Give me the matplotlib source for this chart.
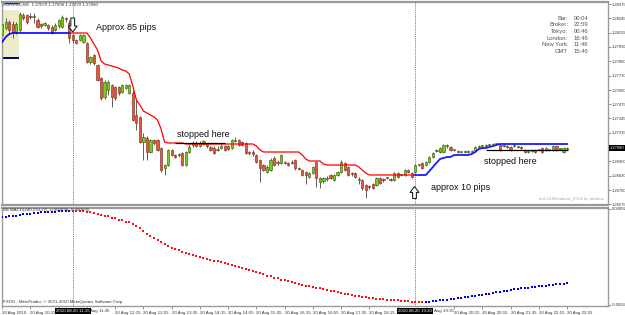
import matplotlib
matplotlib.use("Agg")
import matplotlib.pyplot as plt
import numpy as np
from matplotlib.patches import Polygon, Rectangle
from matplotlib.transforms import blended_transform_factory

plt.rcParams["font.family"] = ["Liberation Sans", "DejaVu Sans"]

W, H = 625, 315

# EURUSD M5, 20 Aug 2010 09:35 .. 22:55 (161 bars)
opens = [1.28096, 1.28159, 1.28213, 1.28195, 1.28123, 1.28141, 1.28276, 1.28276, 1.28267, 1.28258,
         1.28231, 1.28195, 1.28186, 1.28186, 1.28168, 1.28141, 1.28177, 1.28168, 1.28249, 1.28204,
         1.28096, 1.28051, 1.28051, 1.28033, 1.28024, 1.27853, 1.27916, 1.27826, 1.27709, 1.27538,
         1.27601, 1.27646, 1.27628, 1.27628, 1.27583, 1.27619, 1.27574, 1.27574, 1.27376, 1.27358,
         1.27133, 1.27169, 1.27043, 1.27151, 1.27151, 1.27079, 1.26899, 1.26926, 1.27061, 1.27016,
         1.27016, 1.27034, 1.26926, 1.27043, 1.27106, 1.27124, 1.27097, 1.27115, 1.27115, 1.27088,
         1.27079, 1.27061, 1.27079, 1.27097, 1.27097, 1.27079, 1.27142, 1.27151, 1.27133, 1.27124,
         1.27043, 1.27043, 1.27016, 1.26971, 1.26926, 1.26863, 1.26881, 1.26989, 1.26953, 1.26944,
         1.26953, 1.26944, 1.26953, 1.26971, 1.26899, 1.26881, 1.26863, 1.26818, 1.26854, 1.26953,
         1.26773, 1.26782, 1.26800, 1.26836, 1.26791, 1.26836, 1.26863, 1.26944, 1.26908, 1.26854,
         1.26854, 1.26791, 1.26791, 1.26746, 1.26737, 1.26755, 1.26746, 1.26809, 1.26800, 1.26809,
         1.26800, 1.26791, 1.26854, 1.26836, 1.26836, 1.26881, 1.26854, 1.26863, 1.26926, 1.26944,
         1.26926, 1.26953, 1.26998, 1.27052, 1.27043, 1.27043, 1.27097, 1.27088, 1.27061, 1.27052,
         1.27043, 1.27043, 1.27052, 1.27043, 1.27061, 1.27088, 1.27097, 1.27097, 1.27106, 1.27106,
         1.27115, 1.27106, 1.27097, 1.27097, 1.27088, 1.27097, 1.27088, 1.27088, 1.27061, 1.27043,
         1.27052, 1.27061, 1.27061, 1.27079, 1.27061, 1.27061, 1.27061, 1.27097, 1.27070, 1.27043,
         1.27070]
closes = [1.28195, 1.28213, 1.28141, 1.28123, 1.28195, 1.28285, 1.28249, 1.28213, 1.28258, 1.28267,
          1.28168, 1.28177, 1.28204, 1.28159, 1.28114, 1.28186, 1.28231, 1.28258, 1.28240, 1.28069,
          1.28051, 1.28024, 1.28096, 1.28096, 1.27853, 1.27898, 1.27844, 1.27691, 1.27529, 1.27673,
          1.27673, 1.27538, 1.27529, 1.27574, 1.27646, 1.27646, 1.27646, 1.27331, 1.27304, 1.27133,
          1.27178, 1.27043, 1.27151, 1.27124, 1.27061, 1.26881, 1.26926, 1.27061, 1.27016, 1.26998,
          1.27016, 1.26926, 1.27043, 1.27088, 1.27124, 1.27097, 1.27124, 1.27142, 1.27097, 1.27061,
          1.27034, 1.27070, 1.27097, 1.27061, 1.27070, 1.27151, 1.27151, 1.27106, 1.27106, 1.27034,
          1.27034, 1.27025, 1.26953, 1.26899, 1.26881, 1.26908, 1.26971, 1.26926, 1.26944, 1.27016,
          1.26944, 1.26926, 1.26944, 1.26899, 1.26890, 1.26836, 1.26836, 1.26854, 1.26908, 1.26809,
          1.26809, 1.26809, 1.26809, 1.26809, 1.26836, 1.26863, 1.26953, 1.26881, 1.26836, 1.26845,
          1.26818, 1.26800, 1.26719, 1.26701, 1.26728, 1.26719, 1.26809, 1.26764, 1.26791, 1.26809,
          1.26791, 1.26854, 1.26818, 1.26836, 1.26881, 1.26863, 1.26818, 1.26926, 1.26926, 1.26899,
          1.26953, 1.26998, 1.27034, 1.27061, 1.27079, 1.27106, 1.27106, 1.27061, 1.27061, 1.27043,
          1.27043, 1.27052, 1.27043, 1.27052, 1.27088, 1.27097, 1.27097, 1.27106, 1.27106, 1.27115,
          1.27115, 1.27061, 1.27106, 1.27088, 1.27061, 1.27106, 1.27088, 1.27079, 1.27043, 1.27043,
          1.27061, 1.27043, 1.27061, 1.27043, 1.27079, 1.27061, 1.27097, 1.27061, 1.27070, 1.27079,
          1.27080]
highs = [1.28231, 1.28249, 1.28231, 1.28222, 1.28213, 1.28303, 1.28294, 1.28285, 1.28294, 1.28294,
         1.28249, 1.28204, 1.28213, 1.28195, 1.28186, 1.28204, 1.28240, 1.28276, 1.28258, 1.28231,
         1.28105, 1.28060, 1.28105, 1.28105, 1.28033, 1.27907, 1.27925, 1.27835, 1.27718, 1.27691,
         1.27691, 1.27655, 1.27637, 1.27637, 1.27655, 1.27655, 1.27655, 1.27601, 1.27511, 1.27367,
         1.27214, 1.27187, 1.27160, 1.27160, 1.27160, 1.27088, 1.26935, 1.27070, 1.27070, 1.27025,
         1.27034, 1.27043, 1.27052, 1.27124, 1.27142, 1.27142, 1.27142, 1.27151, 1.27124, 1.27097,
         1.27097, 1.27097, 1.27115, 1.27106, 1.27106, 1.27160, 1.27178, 1.27160, 1.27142, 1.27133,
         1.27052, 1.27061, 1.27025, 1.26980, 1.26935, 1.26926, 1.26989, 1.27007, 1.26971, 1.27025,
         1.26962, 1.26953, 1.26971, 1.26980, 1.26908, 1.26890, 1.26872, 1.26863, 1.26917, 1.26962,
         1.26818, 1.26818, 1.26827, 1.26845, 1.26845, 1.26872, 1.26971, 1.26953, 1.26917, 1.26863,
         1.26863, 1.26818, 1.26800, 1.26755, 1.26746, 1.26764, 1.26818, 1.26818, 1.26809, 1.26818,
         1.26809, 1.26863, 1.26863, 1.26845, 1.26890, 1.26890, 1.26863, 1.26935, 1.26935, 1.26953,
         1.26962, 1.27007, 1.27043, 1.27070, 1.27088, 1.27115, 1.27115, 1.27097, 1.27070, 1.27061,
         1.27052, 1.27061, 1.27061, 1.27061, 1.27097, 1.27106, 1.27106, 1.27115, 1.27115, 1.27124,
         1.27124, 1.27115, 1.27115, 1.27106, 1.27097, 1.27115, 1.27097, 1.27097, 1.27070, 1.27052,
         1.27070, 1.27070, 1.27070, 1.27088, 1.27088, 1.27070, 1.27106, 1.27106, 1.27079, 1.27088,
         1.27090]
lows = [1.28078, 1.28141, 1.28114, 1.28069, 1.28105, 1.28123, 1.28231, 1.28195, 1.28240, 1.28204,
        1.28159, 1.28159, 1.28177, 1.28141, 1.28105, 1.28132, 1.28159, 1.28159, 1.28213, 1.28024,
        1.28024, 1.28015, 1.28042, 1.28024, 1.27844, 1.27835, 1.27826, 1.27682, 1.27511, 1.27520,
        1.27556, 1.27448, 1.27511, 1.27556, 1.27574, 1.27610, 1.27565, 1.27322, 1.27241, 1.27124,
        1.26971, 1.26971, 1.27034, 1.27106, 1.27052, 1.26863, 1.26836, 1.26917, 1.27007, 1.26989,
        1.26998, 1.26917, 1.26917, 1.27034, 1.27088, 1.27088, 1.27088, 1.27106, 1.27079, 1.27052,
        1.27025, 1.27052, 1.27070, 1.27052, 1.27061, 1.27070, 1.27133, 1.27097, 1.27097, 1.27025,
        1.27016, 1.27007, 1.26944, 1.26773, 1.26872, 1.26854, 1.26872, 1.26917, 1.26926, 1.26935,
        1.26935, 1.26917, 1.26935, 1.26881, 1.26881, 1.26827, 1.26755, 1.26809, 1.26845, 1.26728,
        1.26719, 1.26764, 1.26782, 1.26800, 1.26782, 1.26827, 1.26854, 1.26872, 1.26827, 1.26827,
        1.26809, 1.26755, 1.26701, 1.26629, 1.26710, 1.26710, 1.26737, 1.26755, 1.26773, 1.26800,
        1.26782, 1.26782, 1.26809, 1.26827, 1.26827, 1.26854, 1.26809, 1.26854, 1.26917, 1.26890,
        1.26917, 1.26944, 1.26989, 1.27043, 1.27034, 1.27034, 1.27079, 1.27052, 1.27052, 1.27034,
        1.27034, 1.27034, 1.27034, 1.27034, 1.27052, 1.27079, 1.27088, 1.27088, 1.27097, 1.27097,
        1.27106, 1.27052, 1.27088, 1.27079, 1.27052, 1.27088, 1.27079, 1.27070, 1.27034, 1.27034,
        1.27043, 1.27034, 1.27052, 1.27034, 1.27052, 1.27052, 1.27052, 1.27052, 1.27061, 1.27034,
        1.27070]

# breakout trailing stops
long_stop_1 = [1.28033, 1.28078, 1.28105, 1.28114, 1.28114, 1.28114, 1.28114, 1.28114, 1.28114, 1.28114,
               1.28114, 1.28114, 1.28114, 1.28114, 1.28114, 1.28114, 1.28114, 1.28114, 1.28114, 1.28114]  # bars 0-19
short_stop = [1.28114, 1.28114, 1.28114, 1.28114, 1.28114, 1.28114, 1.28069, 1.28015, 1.27961, 1.27862,
              1.27835, 1.27826, 1.27817, 1.27808, 1.27799, 1.27781, 1.27772, 1.27745, 1.27637, 1.27511,
              1.27466, 1.27412, 1.27394, 1.27376, 1.27358, 1.27331, 1.27250, 1.27133, 1.27124, 1.27124,
              1.27124, 1.27124, 1.27124, 1.27115, 1.27115, 1.27115, 1.27115, 1.27115, 1.27115, 1.27115,
              1.27115, 1.27115, 1.27115, 1.27115, 1.27115, 1.27115, 1.27115, 1.27115, 1.27115, 1.27115,
              1.27115, 1.27115, 1.27115, 1.27097, 1.27061, 1.27043, 1.27043, 1.27043, 1.27043, 1.27043,
              1.27043, 1.27043, 1.27043, 1.27043, 1.27043, 1.27043, 1.27016, 1.26980, 1.26962, 1.26962,
              1.26962, 1.26962, 1.26935, 1.26926, 1.26926, 1.26926, 1.26926, 1.26926, 1.26926, 1.26926,
              1.26926, 1.26926, 1.26908, 1.26881, 1.26854, 1.26836, 1.26836, 1.26836, 1.26836, 1.26836,
              1.26836, 1.26836, 1.26836, 1.26836, 1.26836, 1.26836, 1.26836, 1.26836, 1.26836]  # bars 19-117
long_stop_2 = [1.26836, 1.26836, 1.26836, 1.26836, 1.26872, 1.26908, 1.26944, 1.26980, 1.26989, 1.26998,
               1.26998, 1.27016, 1.27016, 1.27016, 1.27016, 1.27016, 1.27025, 1.27043, 1.27070, 1.27079,
               1.27079, 1.27088, 1.27097, 1.27106, 1.27115, 1.27115, 1.27115, 1.27115, 1.27115, 1.27115,
               1.27115, 1.27115, 1.27115, 1.27115, 1.27115, 1.27115, 1.27115, 1.27115, 1.27115, 1.27115,
               1.27115, 1.27115, 1.27115, 1.27115]  # bars 117-160

# BB MACD values
macd = [0.000640, 0.000640, 0.000658, 0.000675, 0.000692, 0.000710, 0.000728, 0.000745, 0.000762, 0.000780,
        0.000787, 0.000798, 0.000808, 0.000815, 0.000822, 0.000829, 0.000836, 0.000843, 0.000846, 0.000850,
        0.000848, 0.000846, 0.000844, 0.000840, 0.000832, 0.000815, 0.000780, 0.000745, 0.000710, 0.000682,
        0.000658, 0.000622, 0.000588, 0.000552, 0.000518, 0.000482, 0.000448, 0.000395, 0.000325, 0.000255,
        0.000150, 0.000062, -0.000025, -0.000112, -0.000182, -0.000252, -0.000322, -0.000375, -0.000428, -0.000480,
        -0.000532, -0.000585, -0.000620, -0.000655, -0.000690, -0.000725, -0.000760, -0.000795, -0.000830, -0.000858,
        -0.000886, -0.000914, -0.000942, -0.000970, -0.001005, -0.001040, -0.001075, -0.001110, -0.001152, -0.001190,
        -0.001226, -0.001260, -0.001296, -0.001334, -0.001372, -0.001408, -0.001442, -0.001478, -0.001512, -0.001548,
        -0.001576, -0.001600, -0.001635, -0.001670, -0.001705, -0.001733, -0.001761, -0.001789, -0.001810, -0.001834,
        -0.001862, -0.001890, -0.001915, -0.001940, -0.001960, -0.001985, -0.002013, -0.002038, -0.002062, -0.002090,
        -0.002111, -0.002132, -0.002153, -0.002174, -0.002188, -0.002202, -0.002216, -0.002230, -0.002240, -0.002251,
        -0.002262, -0.002272, -0.002282, -0.002293, -0.002304, -0.002314, -0.002324, -0.002335, -0.002338, -0.002342,
        -0.002338, -0.002328, -0.002314, -0.002300, -0.002282, -0.002265, -0.002251, -0.002237, -0.002220, -0.002202,
        -0.002184, -0.002167, -0.002150, -0.002132, -0.002118, -0.002100, -0.002083, -0.002062, -0.002041, -0.002020,
        -0.001999, -0.001978, -0.001957, -0.001936, -0.001915, -0.001894, -0.001876, -0.001859, -0.001845, -0.001831,
        -0.001817, -0.001803, -0.001789, -0.001775, -0.001761, -0.001747, -0.001733, -0.001719, -0.001705, -0.001691,
        -0.001677]

price_ticks = [1.28375, 1.28245, 1.28115, 1.27990, 1.27860, 1.27730, 1.27600, 1.27475,
               1.27345, 1.27215, 1.26960, 1.26830, 1.26700, 1.26575]
macd_ticks = [0.00092, -0.00244]
time_ticks = list(range(0, 161, 8))
# labels hidden behind the crosshair boxes are left empty; partly hidden ones are drawn shortened
time_labels = ["20 Aug 2010", "20 Aug 10:15", "", "", "20 Aug 12:15",
               "20 Aug 12:55", "20 Aug 13:35", "20 Aug 14:15", "20 Aug 14:55", "20 Aug 15:35",
               "20 Aug 16:15", "20 Aug 16:55", "20 Aug 17:35", "20 Aug 18:15", "",
               "", "20 Aug 20:15", "20 Aug 20:55", "20 Aug 21:35", "20 Aug 22:15",
               "20 Aug 22:55"]
partial_labels = [(25.0, "Aug 11:35"), (122.4, "Aug 19:35")]
info_names = ["Bar:", "Broker:", "Tokyo:", "London:", "New York:", "GMT"]
info_times = ["00:04", "22:59", "00:46", "16:46", "11:46", "15:46"]
box_high, box_low, box_top = 1.28321, 1.27889, 1.28380
stop_hit_1, stop_hit_2 = 1.27124, 1.27061
cursor_bars = [20, 117]
cursor_labels = ["2010.08.20 11:15", "2010.08.20 19:20"]
last_price = 1.27080

assert len(opens) == len(closes) == len(highs) == len(lows) == len(macd) == 161
assert len(short_stop) == 99 and len(long_stop_2) == 44

o = np.array(opens); c = np.array(closes); h = np.array(highs); l = np.array(lows)
idx = np.arange(len(c))
GRID = "#9a9a9a"
SMALL = 3.2

fig = plt.figure(figsize=(W / 100, H / 100), dpi=100)
fig.patch.set_facecolor("white")
ax = fig.add_axes([2 / W, (H - 205) / H, 606 / W, 203 / H])
ax2 = fig.add_axes([2 / W, (H - 306) / H, 606 / W, 98 / H])

for a in (ax, ax2):
    a.set_xlim(-0.06, 171.6)
    for s in a.spines.values():
        s.set_color(GRID)
        s.set_linewidth(1.0)
    a.yaxis.tick_right()
    a.tick_params(axis="y", length=2, width=0.5, color="#666", labelsize=3.0,
                  labelcolor="#333", pad=0.8)
ax.spines["top"].set_linewidth(1.6)
ax.spines["bottom"].set_linewidth(1.6)
ax2.spines["top"].set_linewidth(1.6)

# main window
ax.set_ylim(1.26566, 1.28393)
ax.set_xticks([])
ax.set_yticks(price_ticks)
ax.set_yticklabels([f"{v:.5f}" for v in price_ticks])

ax.add_patch(Rectangle((-0.6, box_low), 5.3, box_high - box_low, facecolor="#eeebcb",
                       edgecolor="none", zorder=0))
ax.hlines(box_low, -0.6, 4.7, color="#000070", lw=1.4, zorder=1)
ax.hlines(box_top, 0.4, 4.7, color="#0000ff", lw=1.0, zorder=1)

up = c >= o
body = np.maximum(np.abs(c - o), 0.00005)
bottom = np.minimum(o, c)
ax.vlines(idx, l, h, color="#444444", lw=0.6, zorder=2)
ax.bar(idx[up], body[up], bottom=bottom[up], width=0.62, color="#7acc14",
       edgecolor="#2d5200", linewidth=0.4, zorder=3)
ax.bar(idx[~up], body[~up], bottom=bottom[~up], width=0.62, color="#e4573a",
       edgecolor="#7a2212", linewidth=0.4, zorder=3)

ax.plot(np.arange(0, 20), long_stop_1, color="#0000ff", lw=1.2, zorder=4)
ax.plot(np.arange(19, 118), short_stop, color="#ff0000", lw=0.9, zorder=4)
ax.plot(np.arange(117, 161), long_stop_2, color="#1a1aff", lw=1.3, zorder=4)

ax.hlines(stop_hit_1, 49, 63, color="black", lw=0.9, zorder=5)
ax.hlines(stop_hit_2, 137, 160.3, color="black", lw=0.9, zorder=5)

for a in (ax, ax2):
    for b in cursor_bars:
        a.axvline(b, color="#555555", lw=0.6, ls=(0, (1, 1.2)), zorder=1)

ax.text(26.5, 1.28168, "Approx 85 pips", fontsize=6.5, va="center", ha="left", color="#111")
ax.text(49.4, 1.27205, "stopped here", fontsize=6.5, va="center", ha="left", color="#111")
ax.text(136.4, 1.26953, "stopped here", fontsize=6.5, va="center", ha="left", color="#111")
ax.text(121.4, 1.26719, "approx 10 pips", fontsize=6.5, va="center", ha="left", color="#111")

blend = blended_transform_factory(ax.transAxes, ax.transData)
ax.text(1.003, last_price, f"{last_price:.5f}", transform=blend, fontsize=3.0, color="white",
        va="center", ha="left", bbox=dict(facecolor="black", edgecolor="none", pad=0.5), clip_on=False)


def fig_arrow(pts):
    p = Polygon([(x / W, 1 - y / H) for x, y in pts], closed=True, transform=fig.transFigure,
                facecolor="white", edgecolor="#222", lw=0.8, zorder=10)
    fig.add_artist(p)


fig_arrow([(70.8, 18), (74.6, 18), (74.6, 26), (77.2, 26), (72.7, 32), (68.2, 26), (70.8, 26)])
fig_arrow([(414.5, 186.5), (419, 192.5), (416.4, 192.5), (416.4, 198.5), (412.6, 198.5),
           (412.6, 192.5), (410, 192.5)])

fig.text(3 / W, 1 - 5 / H, "EURUSD,M5  1.27070 1.27090 1.27070 1.27080", fontsize=SMALL,
         color="#333", va="center", ha="left")
for k, (n, t) in enumerate(zip(info_names, info_times)):
    yy = 1 - (18 + 6.7 * k) / H
    fig.text(568 / W, yy, n, fontsize=4.2, color="#555", ha="right", va="center")
    fig.text(574 / W, yy, t, fontsize=4.2, color="#555", ha="left", va="center")
fig.text(604 / W, 1 - 199 / H, "ant-GUBreakout_V.0.4 by andrew", fontsize=SMALL,
         color="#a8a8a8", ha="right", va="center")

# indicator window
ax2.set_ylim(-0.002475, 0.000955)
mc = np.array(macd)
rising = np.r_[True, np.diff(mc) >= 0]
ax2.scatter(idx[rising], mc[rising], s=1.7, marker="s", color="#0000dd", linewidths=0, zorder=3)
ax2.scatter(idx[~rising], mc[~rising], s=1.7, marker="s", color="#ff1010", linewidths=0, zorder=3)
ax2.set_yticks(macd_ticks)
ax2.set_yticklabels([f"{v:.5f}" for v in macd_ticks])
ax2.set_xticks(time_ticks)
ax2.set_xticklabels(time_labels, fontsize=SMALL, color="#333", ha="left")
ax2.tick_params(axis="x", length=2, width=0.5, color="#666", pad=1.5)

bl2 = blended_transform_factory(ax2.transData, ax2.transAxes)
for b, lab in zip(cursor_bars, cursor_labels):
    ax2.text(b, -0.052, lab, transform=bl2, fontsize=SMALL, color="white", ha="center", va="center",
             bbox=dict(facecolor="black", edgecolor="none", pad=0.8), clip_on=False, zorder=10)
for b, lab in partial_labels:
    ax2.text(b, -0.052, lab, transform=bl2, fontsize=SMALL, color="#333", ha="left", va="center",
             clip_on=False)

fig.text(3 / W, 1 - 210.5 / H, "BB MACD(240,233,27) -0.000690 -0.000690", fontsize=SMALL,
         color="#333", ha="left", va="center")
fig.text(3 / W, 1 - 302 / H, "FXDD - MetaTrader, \u00a9 2001-2010 MetaQuotes Software Corp.",
         fontsize=SMALL, color="#333", ha="left", va="center")

fig.savefig("out.png", dpi=100, facecolor="white")
